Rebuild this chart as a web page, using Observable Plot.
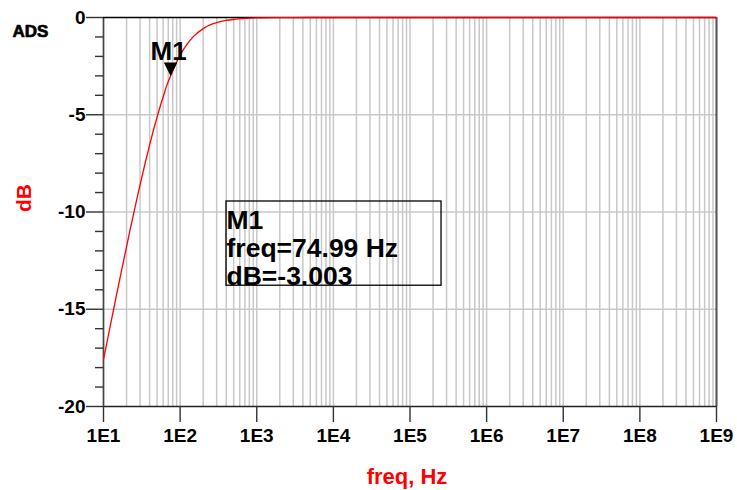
<!DOCTYPE html>
<html><head><meta charset="utf-8">
<script src="https://cdn.jsdelivr.net/npm/d3@7"></script>
<script src="https://cdn.jsdelivr.net/npm/@observablehq/plot@0.6"></script>
<style>
body{margin:0;background:#fff;}
#chart svg{display:block;}
</style></head><body><div id="chart"></div>
<script>
// Curve (frequency in Hz, magnitude in dB)
const freqHz = [10, 11, 12, 13, 14, 15, 17, 20, 22, 25, 28, 30, 35, 40, 45, 50, 55, 60, 67, 75, 85, 100, 120, 150, 200, 250, 300, 400, 500, 700, 1000, 2000, 5000, 1e4, 1e5, 1e6, 1e7, 1e8, 1e9];
const gainDb = [-17.58, -16.77, -16.03, -15.35, -14.73, -14.15, -13.11, -11.78, -11.00, -10.00, -9.12, -8.60, -7.48, -6.55, -5.77, -5.12, -4.56, -4.09, -3.49, -3.01, -2.50, -1.94, -1.43, -0.97, -0.57, -0.37, -0.26, -0.15, -0.10, -0.05, -0.02, -0.006, -0.001, 0, 0, 0, 0, 0, 0];

// Axis ticks
const decadeTicks = [1e1, 1e2, 1e3, 1e4, 1e5, 1e6, 1e7, 1e8, 1e9];
const decadeLabels = ["1E1", "1E2", "1E3", "1E4", "1E5", "1E6", "1E7", "1E8", "1E9"];
const minorMultipliers = [2, 3, 4, 5, 6, 7, 8, 9];
const yMajorTicks = [0, -5, -10, -15, -20];
const yMajorLabels = ["0", "-5", "-10", "-15", "-20"];
const yMinorTicks = [-1, -2, -3, -4, -6, -7, -8, -9, -11, -12, -13, -14, -16, -17, -18, -19];
const yGridLines = [-5, -10, -15];

// Marker and readout box
const markerName = ["M1"];
const markerFreq = [74.99];
const markerDb = [-3.003];
const boxFreq = [403, 2.58e5];
const boxDb = [-9.46, -13.79];
const boxLines = ["M1", "freq=74.99 Hz", "dB=-3.003"];

const curve = freqHz.map((f, i) => ({f, db: gainDb[i]}));
const xGrid = decadeTicks.slice(0, -1).flatMap(d => minorMultipliers.map(m => m * d)).concat(decadeTicks);
const markers = markerName.map((name, i) => ({name, f: markerFreq[i], db: markerDb[i]}));
const box = [{f1: boxFreq[0], f2: boxFreq[1], db1: boxDb[0], db2: boxDb[1], label: boxLines.join("\n")}];
const font = "'Liberation Sans', Arial, Helvetica, sans-serif";

const downTriangle = {
  draw(ctx, size) {
    const h = 13.5, w = 13.5;
    ctx.moveTo(0, 0);
    ctx.lineTo(-w / 2, -h);
    ctx.lineTo(w / 2, -h);
    ctx.closePath();
  }
};

const chart = Plot.plot({
  width: 737,
  height: 490,
  marginLeft: 103,
  marginRight: 21,
  marginTop: 17,
  marginBottom: 84,
  style: {fontFamily: font, background: "#fff", overflow: "visible"},
  x: {type: "log", domain: [1e1, 1e9]},
  y: {type: "linear", domain: [-20, 0]},
  marks: [
    Plot.ruleX(xGrid, {stroke: "#c8c8c8", strokeWidth: 1.5}),
    Plot.ruleY(yGridLines, {stroke: "#c8c8c8", strokeWidth: 1.5}),
    Plot.ruleX([1e9], {stroke: "#555", strokeWidth: 2}),
    Plot.ruleY([-20], {stroke: "#222", strokeWidth: 1.4}),
    Plot.ruleX([1e1], {stroke: "#444", strokeWidth: 1.6}),
    Plot.ruleY([0], {stroke: "#000", strokeWidth: 1.6}),
    Plot.axisX({ticks: decadeTicks, tickFormat: (d) => decadeLabels[decadeTicks.indexOf(d)], tickSize: 16, tickPadding: 6, fontSize: 19, fontWeight: "bold", label: null, stroke: "#333", strokeWidth: 1.4}),
    Plot.axisY({ticks: yMinorTicks, tickSize: 8, tickFormat: () => "", label: null, stroke: "#333", strokeWidth: 1.4}),
    Plot.axisY({ticks: yMajorTicks, tickFormat: (d) => yMajorLabels[yMajorTicks.indexOf(d)], tickSize: 17, tickPadding: 1, fontSize: 19, fontWeight: "bold", label: null, stroke: "#333", strokeWidth: 1.4}),
    Plot.line(curve, {x: "f", y: "db", stroke: "#ff0000", strokeWidth: 1.3, curve: "monotone-x"}),
    Plot.dot(markers, {x: "f", y: "db", symbol: downTriangle, fill: "#000", stroke: null, r: 5}),
    Plot.text(markers, {x: "f", y: "db", text: "name", dx: -2, dy: -16, lineAnchor: "bottom", textAnchor: "middle", fontSize: 26, fontWeight: "bold", fill: "#000"}),
    Plot.rect(box, {x1: "f1", x2: "f2", y1: "db1", y2: "db2", fill: "none", stroke: "#000", strokeWidth: 1.3}),
    Plot.text(box, {x: "f1", y: "db1", text: "label", textAnchor: "start", lineAnchor: "top", lineHeight: 1.07, dx: 0, dy: 7, fontSize: 26.5, fontWeight: "bold", fill: "#000"}),
    Plot.text(["dB"], {frameAnchor: "left", text: d => d, rotate: -90, dx: -79, fontSize: 21, fontWeight: "bold", fill: "#ff0000"}),
    Plot.text(["freq, Hz"], {frameAnchor: "bottom", text: d => d, dy: 77, dx: -3, fontSize: 22, fontWeight: "bold", fill: "#ff0000"}),
    Plot.text(["ADS"], {frameAnchor: "top-left", text: d => d, dx: -91, dy: 7, fontSize: 17, fontWeight: "900", fill: "#000", stroke: "#000", strokeWidth: 0.7})
  ]
});
document.getElementById("chart").appendChild(chart);
</script></body></html>
